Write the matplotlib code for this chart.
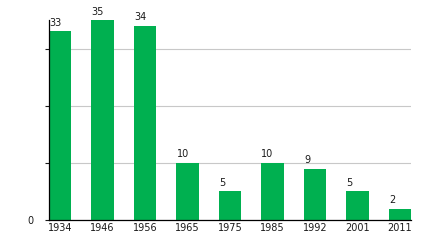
import matplotlib
matplotlib.use('Agg')
import matplotlib.pyplot as plt
import numpy as np

# values
years = ['1934', '1946', '1956', '1965', '1975', '1985', '1992', '2001', '2011']
counts = [33, 35, 34, 10, 5, 10, 9, 5, 2]

bar_color = '#00b050'
w = 0.52

fig = plt.figure(figsize=(4.4, 2.4), dpi=100)
ax = fig.add_axes([49/440, 20/240, (411-49)/440, 200/240])

x = np.arange(len(years))
ax.bar(x, counts, width=w, color=bar_color, zorder=2)
for xi, v in zip(x, counts):
    ax.text(xi - w/2, v + 0.6, str(v), ha='left', va='bottom', fontsize=7, color='#1a1a1a')

ax.set_xlim(-w/2, len(years) - 1 + w/2)
ax.set_ylim(0, 35)
ax.set_yticks([0, 10, 20, 30])
ax.set_yticklabels(['0', '', '', ''])
ax.yaxis.grid(True, color='#c8c8c8', linewidth=0.8, zorder=0)
ax.set_xticks(x)
ax.set_xticklabels(years)
ax.tick_params(axis='x', length=0, labelsize=7, pad=2, colors='#1a1a1a')
ax.tick_params(axis='y', length=3, labelsize=7, pad=8, colors='#1a1a1a')
for s in ['top', 'right']:
    ax.spines[s].set_visible(False)
ax.spines['left'].set_linewidth(0.9)
ax.spines['bottom'].set_linewidth(0.9)

fig.savefig('out.png', dpi=100)
